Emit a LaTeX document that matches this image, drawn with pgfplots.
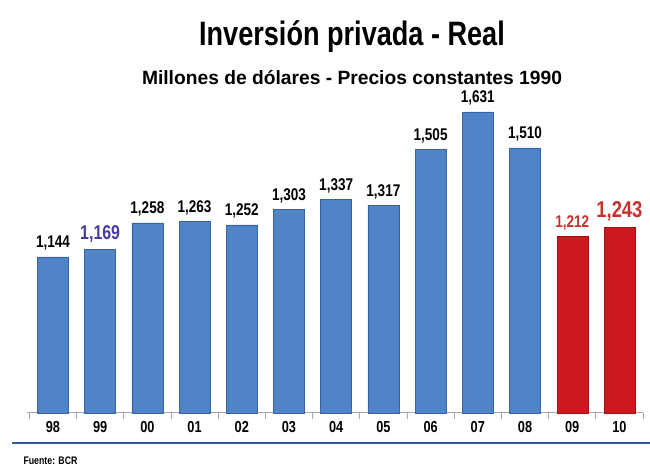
\documentclass[border=0pt]{standalone}
\usepackage{pgfplots}
\pgfplotsset{compat=1.18}
\usepackage{fontspec}
\setmainfont{Liberation Sans}[FakeStretch=0.8]
\newfontfamily\widefont{Liberation Sans}
\definecolor{barblue}{RGB}{80,132,200}
\definecolor{barbluedark}{RGB}{55,100,160}
\definecolor{barred}{RGB}{205,25,30}
\definecolor{barreddark}{RGB}{160,15,20}
\definecolor{labred}{RGB}{205,45,45}
\definecolor{labblue}{RGB}{70,60,160}
\definecolor{linblue}{RGB}{40,90,160}
\begin{document}
\begin{tikzpicture}[x=1bp,y=1bp]
\path[use as bounding box] (0,0) rectangle (650,468);
\node[font=\fontsize{34}{34}\selectfont\bfseries, anchor=base] at (352,422) {Inversión privada - Real};
\node[font=\widefont\fontsize{19.3}{19.3}\selectfont\bfseries, anchor=base] at (352,383) {Millones de dólares -  Precios constantes 1990};
\draw[linblue, line width=1.5bp] (12,25) -- (650,25);
\node[anchor=base west, font=\fontsize{11}{11}\selectfont\bfseries] at (20,3) {Fuente: BCR};
\begin{axis}[at={(27bp,55bp)}, anchor=south west, scale only axis,
  width=616bp, height=313bp,
  xmin=-0.55, xmax=12.5, ymin=620, ymax=1671,
  axis x line*=bottom, axis y line=none,
  axis line style={gray!70, line width=1pt, -},
  xtick={0,...,12},
  xticklabels={98,99,00,01,02,03,04,05,06,07,08,09,10},
  major tick length=0pt,
  minor xtick={-0.5,0.5,...,12.5},
  minor tick length=6bp,
  tick align=outside,
  minor tick style={gray!70, line width=0.8pt},
  xticklabel style={font=\fontsize{16}{16}\selectfont\bfseries, yshift=-5bp},
  ybar, bar width=31bp, bar shift=0pt,
  point meta=explicit symbolic,
  nodes near coords,
  nodes near coords style={anchor=south, yshift=3bp},
  clip=false]
\addplot[draw=barbluedark, fill=barblue,
  nodes near coords style={font=\fontsize{17}{17}\selectfont\bfseries, text=black}]
  coordinates {(0,1144)[1,144] (2,1258)[1,258] (3,1263)[1,263] (4,1252)[1,252] (5,1303)[1,303] (6,1337)[1,337] (7,1317)[1,317] (8,1505)[1,505] (9,1631)[1,631] (10,1510)[1,510]};
\addplot[draw=barbluedark, fill=barblue,
  nodes near coords style={font=\fontsize{20}{20}\selectfont\bfseries, text=labblue}]
  coordinates {(1,1169)[1,169]};
\addplot[draw=barreddark, fill=barred,
  nodes near coords style={font=\fontsize{17}{17}\selectfont\bfseries, text=labred}]
  coordinates {(11,1212)[1,212]};
\addplot[draw=barreddark, fill=barred,
  nodes near coords style={font=\fontsize{23}{23}\selectfont\bfseries, text=labred}]
  coordinates {(12,1243)[1,243]};
\end{axis}
\end{tikzpicture}
\end{document}
